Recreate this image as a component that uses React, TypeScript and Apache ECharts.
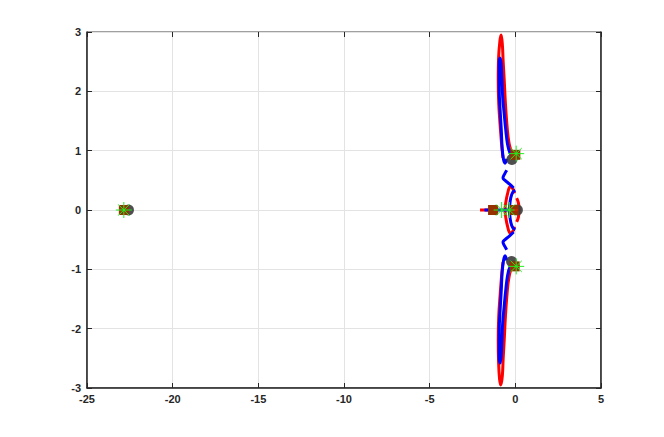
import React, { useEffect, useRef } from "react";
import * as echarts from "echarts";

// Axis ticks
const xTicks = [-25, -20, -15, -10, -5, 0, 5];
const yTicks = [-3, -2, -1, 0, 1, 2, 3];

// Red branches
const redUpper = [[0.25, 0.95], [0.05, 0.93], [-0.22, 0.99], [-0.38, 1.15], [-0.48, 1.4], [-0.58, 1.8], [-0.65, 2.2], [-0.71, 2.5], [-0.76, 2.8], [-0.83, 2.95], [-0.9, 2.85], [-0.98, 2.55], [-1.0, 2.2], [-0.97, 1.8], [-0.88, 1.4], [-0.8, 1.1], [-0.72, 0.88]];
const redLower = [[0.25, -0.95], [0.05, -0.94], [-0.22, -0.99], [-0.38, -1.15], [-0.48, -1.4], [-0.58, -1.8], [-0.65, -2.2], [-0.71, -2.5], [-0.76, -2.8], [-0.85, -2.95], [-0.92, -2.85], [-0.98, -2.55], [-1.0, -2.2], [-0.97, -1.8], [-0.88, -1.4], [-0.8, -1.1], [-0.72, -0.88]];
const redMidOuter = [[-0.05, 0.28], [-0.15, 0.36], [-0.3, 0.39], [-0.45, 0.28], [-0.56, 0.12], [-0.6, 0], [-0.56, -0.12], [-0.45, -0.28], [-0.3, -0.39], [-0.15, -0.36], [-0.05, -0.28]];
const redMidRight = [[0.08, 0.2], [0.18, 0.12], [0.22, 0], [0.18, -0.12], [0.08, -0.2]];
const redReal = [[-2.06, 0], [-1.5, 0]];

// Blue branches
const blueUpper = [[-0.1, 0.9], [-0.31, 0.96], [-0.45, 1.1], [-0.56, 1.35], [-0.66, 1.65], [-0.74, 1.91], [-0.79, 2.25], [-0.83, 2.47], [-0.89, 2.56], [-0.95, 2.45], [-0.95, 2.2], [-0.93, 1.91], [-0.87, 1.6], [-0.82, 1.35], [-0.77, 1.05], [-0.69, 0.85], [-0.6, 0.79], [-0.5, 0.86]];
const blueLower = [[-0.1, -0.9], [-0.31, -0.96], [-0.45, -1.1], [-0.56, -1.35], [-0.66, -1.65], [-0.74, -1.91], [-0.79, -2.25], [-0.83, -2.47], [-0.89, -2.58], [-0.95, -2.45], [-0.95, -2.2], [-0.93, -1.91], [-0.87, -1.6], [-0.82, -1.35], [-0.77, -1.05], [-0.69, -0.85], [-0.6, -0.77], [-0.5, -0.85]];
const blueMidUpper = [[-0.1, 0.37], [-0.35, 0.44], [-0.6, 0.5], [-0.72, 0.54], [-0.62, 0.61], [-0.5, 0.67]];
const blueMidLower = [[-0.1, -0.37], [-0.35, -0.44], [-0.6, -0.5], [-0.72, -0.54], [-0.62, -0.61], [-0.5, -0.67]];
const blueInner = [[0.0, 0.33], [-0.15, 0.3], [-0.27, 0.2], [-0.33, 0.07], [-0.34, 0], [-0.33, -0.07], [-0.27, -0.2], [-0.15, -0.3], [0.0, -0.33]];
const blueReal = [[-1.8, 0], [-0.1, 0]];

// Markers
const grayCircles = [[-22.58, 0], [0.12, 0], [-0.2, 0.85], [-0.22, -0.87]];
const brownSquares = [[-22.85, 0], [-1.3, 0], [-0.1, 0], [0.0, 0.93], [-0.04, -0.95]];
const greenStars = [[-22.85, 0], [-0.8, 0], [-0.35, 0], [0.05, 0.95], [0.05, -0.95]];
const redDots = [[0.04, 0]];

const STAR = "path://M0,-10L0,10M-10,0L10,0M-7,-7L7,7M-7,7L7,-7";

function lineSeries(data: number[][], color: string) {
  return {
    type: "line",
    data,
    smooth: 0.4,
    showSymbol: false,
    symbol: "none",
    lineStyle: { color, width: 3 },
    silent: true,
    z: color === "#0000ff" ? 3 : 2,
  };
}

export default function App() {
  const ref = useRef<HTMLDivElement>(null);
  useEffect(() => {
    if (!ref.current) return;
    const chart = echarts.init(ref.current, null, { renderer: "svg" });
    const labelStyle = {
      color: "#262626",
      fontSize: 11,
      fontWeight: "bold" as const,
      fontFamily: "Liberation Sans, Arial, sans-serif",
    };
    const gridLine = { show: true, lineStyle: { color: "#e3e3e3", width: 1 } };
    const tick = { show: true, inside: true, length: 5, lineStyle: { color: "#262626" } };
    chart.setOption({
      animation: false,
      backgroundColor: "#ffffff",
      grid: { left: 87, right: 63, top: 32, bottom: 49, show: true, borderColor: "#404040", borderWidth: 1, backgroundColor: "#ffffff" },
      xAxis: [
        {
          type: "value",
          min: xTicks[0],
          max: xTicks[xTicks.length - 1],
          interval: 5,
          axisLine: { show: true, onZero: false, lineStyle: { color: "#262626", width: 1.5 } },
          axisTick: tick,
          axisLabel: { ...labelStyle, margin: 5 },
          splitLine: gridLine,
        },
        {
          type: "value",
          position: "top",
          min: xTicks[0],
          max: xTicks[xTicks.length - 1],
          interval: 5,
          axisLine: { show: false, onZero: false },
          axisTick: tick,
          axisLabel: { show: false },
          splitLine: { show: false },
        },
      ],
      yAxis: [
        {
          type: "value",
          min: yTicks[0],
          max: yTicks[yTicks.length - 1],
          interval: 1,
          axisLine: { show: true, onZero: false, lineStyle: { color: "#262626", width: 1.5 } },
          axisTick: tick,
          axisLabel: { ...labelStyle, margin: 6 },
          splitLine: gridLine,
        },
        {
          type: "value",
          position: "right",
          min: yTicks[0],
          max: yTicks[yTicks.length - 1],
          interval: 1,
          axisLine: { show: true, onZero: false, lineStyle: { color: "#262626", width: 1.5 } },
          axisTick: tick,
          axisLabel: { show: false },
          splitLine: { show: false },
        },
      ],
      series: [
        lineSeries(redReal, "#ff0000"),
        lineSeries(redUpper, "#ff0000"),
        lineSeries(redLower, "#ff0000"),
        lineSeries(redMidOuter, "#ff0000"),
        lineSeries(redMidRight, "#ff0000"),
        lineSeries(blueUpper, "#0000ff"),
        lineSeries(blueLower, "#0000ff"),
        lineSeries(blueMidUpper, "#0000ff"),
        lineSeries(blueMidLower, "#0000ff"),
        lineSeries(blueInner, "#0000ff"),
        lineSeries(blueReal, "#0000ff"),
        {
          type: "scatter",
          data: grayCircles,
          symbol: "circle",
          symbolSize: 11,
          itemStyle: { color: "#3c3c3c", opacity: 0.9 },
          z: 4,
          silent: true,
        },
        {
          type: "scatter",
          data: brownSquares,
          symbol: "rect",
          symbolSize: 10,
          itemStyle: { color: "#963200", opacity: 1 },
          z: 5,
          silent: true,
        },
        {
          type: "scatter",
          data: greenStars,
          symbol: STAR,
          symbolSize: 16,
          itemStyle: { color: "transparent", borderColor: "#22ee22", borderWidth: 1, opacity: 1 },
          z: 6,
          silent: true,
        },
        {
          type: "scatter",
          data: redDots,
          symbol: "circle",
          symbolSize: 3,
          itemStyle: { color: "#ff0000" },
          z: 7,
          silent: true,
        },
      ],
    });
    return () => chart.dispose();
  }, []);
  return <div ref={ref} style={{ position: "fixed", left: 0, top: 0, width: 664, height: 437 }} />;
}
